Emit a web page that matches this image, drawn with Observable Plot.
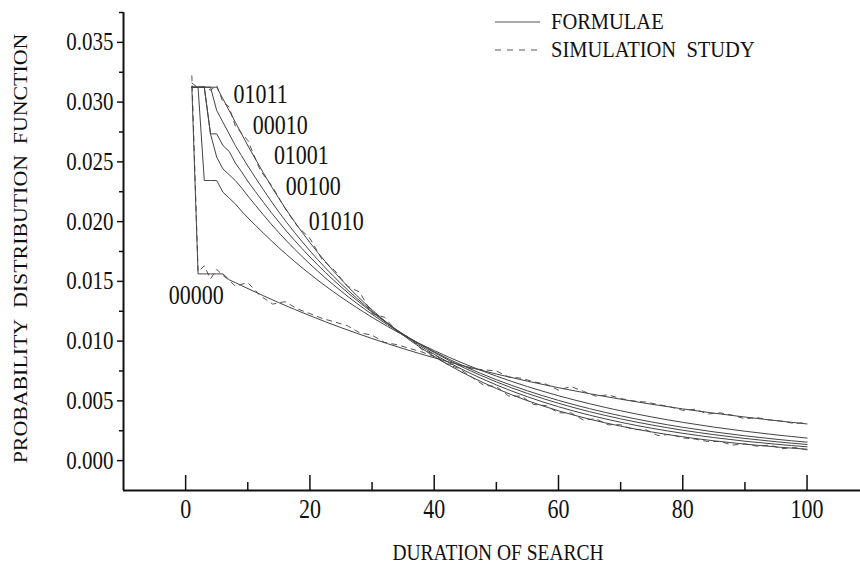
<!DOCTYPE html>
<html>
<head>
<meta charset="utf-8">
<script src="https://cdn.jsdelivr.net/npm/d3@7"></script>
<script src="https://cdn.jsdelivr.net/npm/@observablehq/plot@0.6"></script>
<style>
  html, body { margin: 0; padding: 0; background: #fff; overflow: hidden; }
  #chart { position: relative; width: 860px; height: 564px; }
  #legend { position: absolute; left: 0; top: 0; pointer-events: none; }
</style>
</head>
<body>
<div id="chart"></div>
<script>
// ---- Data ----
const patterns = ["01011", "00010", "01001", "00100", "01010", "00000"];

// early part of each curve (duration 1..10)
const headX = [1, 2, 3, 4, 5, 6, 7, 8, 9, 10];
const head01011 = [0.03125, 0.03125, 0.03125, 0.03125, 0.03125, 0.030273, 0.029297, 0.028320, 0.027344, 0.026367];
const head00010 = [0.03125, 0.03125, 0.03125, 0.03125, 0.029297, 0.028320, 0.027344, 0.026367, 0.025513, 0.024658];
const head01001 = [0.03125, 0.03125, 0.03125, 0.027344, 0.027344, 0.026367, 0.025879, 0.024902, 0.024170, 0.023376];
const head00100 = [0.03125, 0.03125, 0.03125, 0.027344, 0.025391, 0.024414, 0.023926, 0.023437, 0.022827, 0.022155];
const head01010 = [0.03125, 0.03125, 0.023438, 0.023438, 0.023438, 0.022461, 0.021973, 0.021484, 0.020874, 0.020325];
const head00000 = [0.03125, 0.015625, 0.015625, 0.015625, 0.015625, 0.015625, 0.015137, 0.014892, 0.014649, 0.014402];

// smooth tail of each curve (duration 10..100)
const tailX = [10, 15, 20, 25, 30, 35, 40, 45, 50, 55, 60, 65, 70, 75, 80, 85, 90, 95, 100];
const tail01011 = [0.026367, 0.021943, 0.018247, 0.015173, 0.012617, 0.010492, 0.008724, 0.007255, 0.006033, 0.005017, 0.004171, 0.003469, 0.002885, 0.002399, 0.001995, 0.001658, 0.001379, 0.001147, 0.000954];
const tail00010 = [0.024658, 0.020807, 0.017556, 0.014813, 0.012498, 0.010546, 0.008898, 0.007508, 0.006335, 0.005345, 0.004510, 0.003805, 0.003211, 0.002709, 0.002286, 0.001929, 0.001627, 0.001373, 0.001158];
const tail01001 = [0.023376, 0.019969, 0.017043, 0.014546, 0.012415, 0.010596, 0.009044, 0.007719, 0.006588, 0.005623, 0.004799, 0.004096, 0.003496, 0.002984, 0.002547, 0.002174, 0.001855, 0.001583, 0.001351];
const tail00100 = [0.022155, 0.019076, 0.016454, 0.014192, 0.012241, 0.010558, 0.009107, 0.007855, 0.006775, 0.005844, 0.005041, 0.004348, 0.003750, 0.003234, 0.002790, 0.002406, 0.002076, 0.001790, 0.001544];
const tail01010 = [0.020325, 0.017818, 0.015614, 0.013683, 0.011991, 0.010508, 0.009209, 0.008070, 0.007072, 0.006198, 0.005431, 0.004760, 0.004171, 0.003655, 0.003203, 0.002807, 0.002460, 0.002156, 0.001889];
const tail00000 = [0.014402, 0.013217, 0.012129, 0.011131, 0.010215, 0.009375, 0.008604, 0.007896, 0.007246, 0.006650, 0.006102, 0.005600, 0.005140, 0.004717, 0.004329, 0.003972, 0.003646, 0.003346, 0.003070];

// simulation study (dashed), visible for the two extreme patterns
const simPatterns = ["00000", "01011"];
const simX = [1, 2, 3, 4, 5, 6, 7, 8, 10, 12, 14, 16, 18, 20, 22, 24, 26, 28, 30, 32, 34, 36, 38, 40, 42, 44, 46, 48, 50, 52, 54, 56, 58, 60, 62, 64, 66, 68, 70, 72, 74, 76, 78, 80, 82, 84, 86, 88, 90, 92, 94, 96, 98, 100];
const sim00000 = [0.0322, 0.0158, 0.0163, 0.0152, 0.0160, 0.0155, 0.0151, 0.0146, 0.0149, 0.0138, 0.0131, 0.0133, 0.0127, 0.0123, 0.0119, 0.0116, 0.0113, 0.0107, 0.0105, 0.0099, 0.0097, 0.0094, 0.0091, 0.0087, 0.0081, 0.0080, 0.0077, 0.0076, 0.0075, 0.0070, 0.0069, 0.0066, 0.0064, 0.0059, 0.0062, 0.0058, 0.0054, 0.0055, 0.0052, 0.0050, 0.0049, 0.0047, 0.0045, 0.0042, 0.0043, 0.0039, 0.0040, 0.0038, 0.0035, 0.0036, 0.0034, 0.0033, 0.0031, 0.0032];
const sim01011 = [0.0316, 0.0312, 0.0313, 0.0310, 0.0314, 0.0300, 0.0296, 0.0280, 0.0268, 0.0243, 0.0229, 0.0211, 0.0196, 0.0186, 0.0168, 0.0159, 0.0146, 0.0141, 0.0123, 0.0120, 0.0108, 0.0103, 0.0093, 0.0089, 0.0081, 0.0077, 0.0070, 0.0063, 0.0062, 0.0054, 0.0054, 0.0047, 0.0046, 0.0040, 0.0040, 0.0034, 0.0035, 0.0030, 0.0030, 0.0026, 0.0026, 0.0021, 0.0022, 0.0019, 0.0018, 0.0016, 0.0016, 0.0013, 0.0014, 0.0012, 0.0013, 0.0010, 0.0011, 0.0009];

// curve labels
const labelNames = ["01011", "00010", "01001", "00100", "01010", "00000"];
const labelX = [7.7, 10.8, 14.2, 16.1, 19.8, -2.7];
const labelY = [0.03065, 0.02805, 0.02554, 0.02294, 0.02001, 0.01382];

// axes
const xDomain = [-10, 108.6];
const yDomain = [-0.0025, 0.0375];
const xMajor = [0, 20, 40, 60, 80, 100];
const xMinor = [10, 30, 50, 70, 90];
const yMajor = [0, 0.005, 0.010, 0.015, 0.020, 0.025, 0.030, 0.035];
const yMinor = [0.0025, 0.0075, 0.0125, 0.0175, 0.0225, 0.0275, 0.0325, 0.0375];

const xTitle = "DURATION OF SEARCH";
const yTitle = "PROBABILITY\u00a0 DISTRIBUTION\u00a0 FUNCTION";
const legendLabels = ["FORMULAE", "SIMULATION\u00a0 STUDY"];

// ---- Build tables ----
const heads = [head01011, head00010, head01001, head00100, head01010, head00000];
const tails = [tail01011, tail00010, tail01001, tail00100, tail01010, tail00000];
const headRows = [], tailRows = [], simRows = [];
patterns.forEach((p, i) => {
  headX.forEach((x, j) => headRows.push({pattern: p, x, y: heads[i][j]}));
  tailX.forEach((x, j) => tailRows.push({pattern: p, x, y: tails[i][j]}));
});
const sims = [sim00000, sim01011];
simPatterns.forEach((p, i) => simX.forEach((x, j) => simRows.push({pattern: p, x, y: sims[i][j]})));
const labelRows = labelNames.map((t, i) => ({t, x: labelX[i], y: labelY[i]}));

const font = "'Liberation Serif', 'Times New Roman', serif";
const lineColor = "#444";

const plot = Plot.plot({
  width: 860,
  height: 564,
  marginLeft: 123,
  marginRight: 0,
  marginTop: 12,
  marginBottom: 74,
  x: {domain: xDomain},
  y: {domain: yDomain},
  style: {fontFamily: font, background: "white", color: "#111"},
  marks: [
    Plot.axisY(yMajor, {tickSize: 6, tickPadding: 4, strokeWidth: 1.5, tickFormat: d3.format(".3f"), fontSize: 21, label: null}),
    Plot.axisY(yMinor, {tickSize: 4, strokeWidth: 1.5, tickFormat: () => "", label: null}),
    Plot.axisX(xMajor, {tickSize: -15, strokeWidth: 1.5, tickFormat: () => "", label: null}),
    Plot.axisX(xMinor, {tickSize: -8, strokeWidth: 1.5, tickFormat: () => "", label: null}),
    Plot.axisX(xMajor, {tickSize: 0, tickPadding: 9, fontSize: 22, label: null}),
    Plot.ruleX([xDomain[0]], {stroke: "#111", strokeWidth: 2}),
    Plot.ruleY([yDomain[0]], {stroke: "#111", strokeWidth: 2}),
    Plot.line(simRows, {x: "x", y: "y", z: "pattern", stroke: "#555", strokeWidth: 1, strokeDasharray: "5,5"}),
    Plot.line(headRows, {x: "x", y: "y", z: "pattern", stroke: lineColor, strokeWidth: 1, curve: "linear"}),
    Plot.line(tailRows, {x: "x", y: "y", z: "pattern", stroke: lineColor, strokeWidth: 1, curve: "monotone-x"}),
    Plot.text(labelRows, {x: "x", y: "y", text: "t", textAnchor: "start", fontSize: 22, fill: "#111"}),
    Plot.text([xTitle], {frameAnchor: "bottom", textAnchor: "middle", lineAnchor: "middle", dx: 6, dy: 62, fontSize: 19.5, fill: "#111"}),
    Plot.text([yTitle], {frameAnchor: "left", textAnchor: "middle", lineAnchor: "middle", rotate: -90, dx: -103, dy: -3, fontSize: 19, fill: "#111"})
  ]
});

const chart = document.getElementById("chart");
chart.appendChild(plot);

// vertical stretch of glyphs, as in the reference scan
d3.select(plot).selectAll("text").each(function () {
  const t = this.getAttribute("transform") || "";
  if (t.includes("rotate")) this.setAttribute("transform", t + " scale(1.15,1)");
  else this.setAttribute("transform", t + " scale(1,1.2)");
});

// legend
const leg = d3.select(chart).append("svg")
  .attr("id", "legend").attr("width", 860).attr("height", 564);
const legY = [22, 50];
const legDash = [null, "6,6"];
legendLabels.forEach((lab, i) => {
  leg.append("line")
    .attr("x1", 495).attr("x2", 540).attr("y1", legY[i]).attr("y2", legY[i])
    .attr("stroke", "#555").attr("stroke-width", 1)
    .attr("stroke-dasharray", legDash[i]);
  leg.append("text")
    .attr("transform", `translate(551,${legY[i]}) scale(1,1.1)`)
    .attr("dy", "0.32em")
    .attr("font-family", font).attr("font-size", 20.5).attr("fill", "#111")
    .text(lab);
});
</script>
</body>
</html>
